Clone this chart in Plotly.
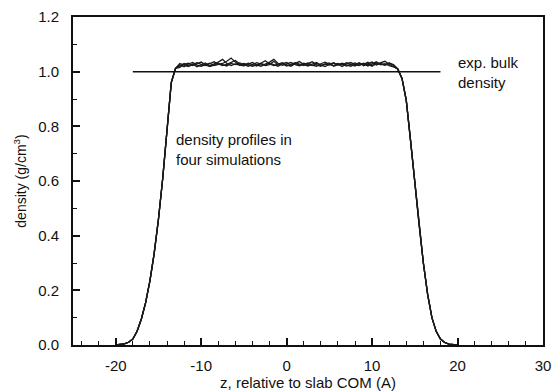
import plotly.graph_objects as go

# z grid (Angstrom), 0.5 step from -20 to 20
z = [-20.0, -19.5, -19.0, -18.5, -18.0, -17.5, -17.0, -16.5, -16.0, -15.5,
     -15.0, -14.5, -14.0, -13.5, -13.0, -12.5, -12.0, -11.5, -11.0, -10.5,
     -10.0, -9.5, -9.0, -8.5, -8.0, -7.5, -7.0, -6.5, -6.0, -5.5,
     -5.0, -4.5, -4.0, -3.5, -3.0, -2.5, -2.0, -1.5, -1.0, -0.5,
     0.0, 0.5, 1.0, 1.5, 2.0, 2.5, 3.0, 3.5, 4.0, 4.5,
     5.0, 5.5, 6.0, 6.5, 7.0, 7.5, 8.0, 8.5, 9.0, 9.5,
     10.0, 10.5, 11.0, 11.5, 12.0, 12.5, 13.0, 13.5, 14.0, 14.5,
     15.0, 15.5, 16.0, 16.5, 17.0, 17.5, 18.0, 18.5, 19.0, 19.5, 20.0]

# interfacial region (z = -20 ... -13)
left_edge = [0.000, 0.001, 0.004, 0.010, 0.022, 0.050, 0.095, 0.155, 0.235, 0.335,
             0.460, 0.610, 0.780, 0.960, 1.012]
# interfacial region (z = 13 ... 20)
right_edge = [1.010, 0.975, 0.895, 0.750, 0.590, 0.440, 0.300, 0.185, 0.100, 0.050,
              0.022, 0.009, 0.003, 0.001, 0.000]

# bulk plateau (z = -12.5 ... 12.5) for the four simulations
plateau_1 = [1.020, 1.030, 1.022, 1.028, 1.018, 1.025, 1.032, 1.021, 1.027, 1.035,
             1.045, 1.030, 1.022, 1.028, 1.024, 1.030, 1.026, 1.020, 1.025, 1.031,
             1.040, 1.028, 1.022, 1.027, 1.033, 1.025, 1.020, 1.029, 1.024, 1.031,
             1.026, 1.022, 1.030, 1.025, 1.019, 1.027, 1.033, 1.024, 1.028, 1.021,
             1.026, 1.032, 1.024, 1.029, 1.021, 1.030, 1.036, 1.025, 1.029, 1.022,
             1.018]
plateau_2 = [1.025, 1.018, 1.028, 1.034, 1.024, 1.020, 1.027, 1.031, 1.022, 1.026,
             1.030, 1.038, 1.050, 1.035, 1.024, 1.021, 1.029, 1.034, 1.025, 1.020,
             1.028, 1.035, 1.045, 1.030, 1.023, 1.028, 1.034, 1.026, 1.021, 1.027,
             1.032, 1.024, 1.020, 1.029, 1.035, 1.027, 1.022, 1.030, 1.024, 1.033,
             1.027, 1.021, 1.030, 1.026, 1.034, 1.023, 1.028, 1.032, 1.038, 1.027,
             1.020]
plateau_3 = [1.030, 1.024, 1.019, 1.026, 1.033, 1.027, 1.022, 1.029, 1.036, 1.028,
             1.022, 1.027, 1.033, 1.041, 1.028, 1.022, 1.031, 1.027, 1.021, 1.030,
             1.024, 1.031, 1.026, 1.020, 1.029, 1.034, 1.024, 1.030, 1.037, 1.026,
             1.021, 1.028, 1.034, 1.023, 1.027, 1.032, 1.020, 1.026, 1.031, 1.025,
             1.020, 1.027, 1.033, 1.022, 1.028, 1.035, 1.024, 1.030, 1.025, 1.033,
             1.024]
plateau_4 = [1.016, 1.027, 1.031, 1.022, 1.029, 1.035, 1.025, 1.019, 1.024, 1.030,
             1.026, 1.021, 1.030, 1.026, 1.032, 1.027, 1.020, 1.026, 1.033, 1.028,
             1.022, 1.026, 1.038, 1.024, 1.029, 1.021, 1.027, 1.033, 1.028, 1.022,
             1.030, 1.036, 1.025, 1.020, 1.028, 1.024, 1.031, 1.027, 1.019, 1.029,
             1.034, 1.026, 1.022, 1.031, 1.027, 1.020, 1.032, 1.027, 1.023, 1.030,
             1.026]

bulk_z = [-18, 18]
bulk_density = [1.0, 1.0]

x_tickvals = [-20, -10, 0, 10, 20, 30]
x_ticktext = ["-20", "-10", "0", "10", "20", "30"]
y_tickvals = [0.0, 0.2, 0.4, 0.6, 0.8, 1.0, 1.2]
y_ticktext = ["0.0", "0.2", "0.4", "0.6", "0.8", "1.0", "1.2"]

FONT = "Liberation Sans, Arial, Helvetica, sans-serif"
INK = "#111111"

fig = go.Figure()
for p in [plateau_1, plateau_2, plateau_3, plateau_4]:
    fig.add_trace(go.Scatter(x=z, y=left_edge + p + right_edge, mode="lines",
                             line=dict(color="#1a1a1a", width=1.3),
                             showlegend=False, hoverinfo="skip"))
fig.add_trace(go.Scatter(x=bulk_z, y=bulk_density, mode="lines",
                         line=dict(color=INK, width=1.5), showlegend=False))

fig.add_annotation(x=-13.2, y=0.715, xref="x", yref="y", xanchor="left", yanchor="middle",
                   text="density profiles in<br>four simulations", showarrow=False,
                   align="left", font=dict(family=FONT, size=15, color=INK))
fig.add_annotation(x=19.8, y=0.998, xref="x", yref="y", xanchor="left", yanchor="middle",
                   text="exp. bulk<br>density", showarrow=False,
                   align="left", font=dict(family=FONT, size=15, color=INK))

axis_common = dict(showgrid=False, zeroline=False, showline=True, linecolor=INK,
                   linewidth=1.8, mirror=True, ticks="inside", ticklen=7,
                   tickwidth=1.5, tickcolor=INK, automargin=False,
                   tickfont=dict(family=FONT, size=15, color=INK))

fig.update_xaxes(range=[-25, 30], tickvals=x_tickvals, ticktext=x_ticktext,
                 ticklabelstandoff=6,
                 minor=dict(dtick=2, tick0=0, ticks="inside", ticklen=4,
                            tickwidth=1.3, tickcolor=INK, showgrid=False),
                 title=dict(text="z, relative to slab COM (A)", standoff=4,
                            font=dict(family=FONT, size=15, color=INK)),
                 **axis_common)
fig.update_yaxes(range=[0, 1.2], tickvals=y_tickvals, ticktext=y_ticktext,
                 ticklabelstandoff=9,
                 minor=dict(dtick=0.1, tick0=0, ticks="inside", ticklen=4,
                            tickwidth=1.3, tickcolor=INK, showgrid=False),
                 title=dict(text="density (g/cm<sup>3</sup>)", standoff=8,
                            font=dict(family=FONT, size=14, color=INK)),
                 **axis_common)

fig.update_layout(width=555, height=392, margin=dict(l=73, r=12, t=17, b=47),
                  paper_bgcolor="white", plot_bgcolor="white",
                  font=dict(family=FONT, color=INK))
fig.write_html("out.html")
